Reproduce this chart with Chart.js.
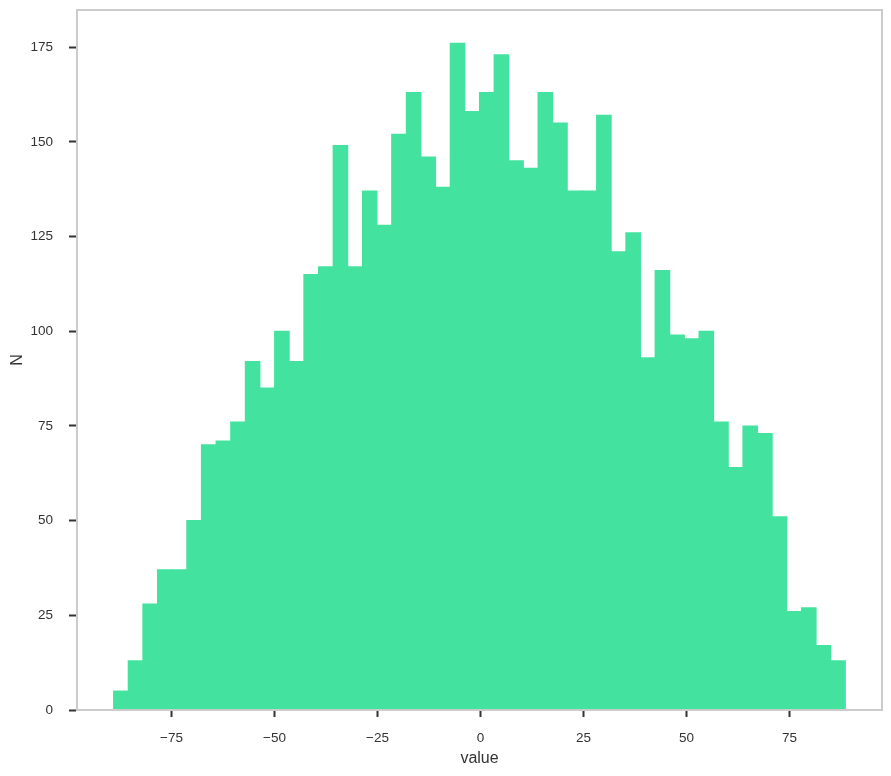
<!DOCTYPE html>
<html lang="en">
  <head>
    <meta charset="UTF-8" />
    <title>Histogram</title>
    <script src="https://cdn.jsdelivr.net/npm/chart.js"></script>
    <style>
      html, body { margin: 0; padding: 0; background: #fff; }
      #wrap { width: 891px; height: 776px; }
    </style>
  </head>
  <body>
    <div id="wrap"><canvas id="histChart"></canvas></div>

    <script>
      // histogram bins
      const binStart = -89.05;
      const binWidth = 3.552;
      const counts = [
        5, 13, 28, 37, 37, 50, 70, 71, 76, 92,
        85, 100, 92, 115, 117, 149, 117, 137, 128, 152,
        163, 146, 138, 176, 158, 163, 173, 145, 143, 163,
        155, 137, 137, 157, 121, 126, 93, 116, 99, 98,
        100, 76, 64, 75, 73, 51, 26, 27, 17, 13,
      ];
      const xTicks = [-75, -50, -25, 0, 25, 50, 75];
      const yTicks = [0, 25, 50, 75, 100, 125, 150, 175];
      const xLabel = "value";
      const yLabel = "N";

      const points = counts.map((c, i) => ({
        x: binStart + binWidth * (i + 0.5),
        y: c,
      }));

      const textColor = "#333333";
      const spineColor = "#cccccc";

      // draw the top and right spines too
      const framePlugin = {
        id: "frame",
        afterDraw(chart) {
          const { ctx, chartArea: a } = chart;
          ctx.save();
          ctx.strokeStyle = spineColor;
          ctx.lineWidth = 2;
          ctx.strokeRect(a.left, a.top, a.right - a.left, a.bottom - a.top);
          ctx.restore();
        },
      };

      const fmt = (v) => String(v).replace("-", "\u2212");

      new Chart(document.getElementById("histChart"), {
        type: "bar",
        data: {
          datasets: [
            {
              data: points,
              backgroundColor: "#43e39f",
              borderWidth: 0,
              barPercentage: 1,
              categoryPercentage: 1,
              inflateAmount: 0.5,
            },
          ],
        },
        options: {
          responsive: true,
          maintainAspectRatio: false,
          animation: false,
          layout: { padding: { top: 10, right: 9, left: 0, bottom: 0 } },
          plugins: {
            legend: { display: false },
            tooltip: { enabled: false },
          },
          scales: {
            x: {
              type: "linear",
              offset: false,
              min: -97.93,
              max: 97.44,
              afterBuildTicks: (axis) => {
                axis.ticks = xTicks.map((v) => ({ value: v }));
              },
              afterFit: (axis) => {
                axis.height = 66;
                axis.paddingLeft = 0;
                axis.paddingRight = 0;
              },
              border: { color: spineColor, width: 2 },
              grid: {
                offset: false,
                drawOnChartArea: false,
                drawTicks: true,
                tickLength: 7,
                tickWidth: 2,
                tickColor: textColor,
              },
              ticks: {
                color: textColor,
                padding: 13,
                maxRotation: 0,
                font: { family: "Liberation Sans", size: 13.5 },
                callback: (v) => fmt(v),
              },
              title: {
                display: true,
                text: xLabel,
                color: textColor,
                padding: { top: 0, bottom: 8 },
                font: { family: "Liberation Sans", size: 16 },
              },
            },
            y: {
              min: 0,
              max: 184.8,
              afterBuildTicks: (axis) => {
                axis.ticks = yTicks.map((v) => ({ value: v }));
              },
              afterFit: (axis) => {
                axis.width = 77;
                axis.paddingTop = 0;
                axis.paddingBottom = 0;
              },
              border: { color: spineColor, width: 2 },
              grid: {
                drawOnChartArea: false,
                drawTicks: true,
                tickLength: 8,
                tickWidth: 2,
                tickColor: textColor,
              },
              ticks: {
                color: textColor,
                padding: 16,
                font: { family: "Liberation Sans", size: 13.5 },
                callback: (v) => fmt(v),
              },
              title: {
                display: true,
                text: yLabel,
                color: textColor,
                padding: { top: 8, bottom: 0 },
                font: { family: "Liberation Sans", size: 16 },
              },
            },
          },
        },
        plugins: [framePlugin],
      });
    </script>
  </body>
</html>
